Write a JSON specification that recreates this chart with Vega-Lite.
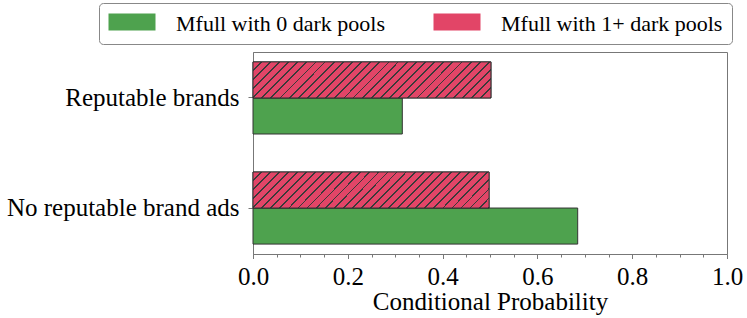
{
  "$schema": "https://vega.github.io/schema/vega-lite/v6.json",
  "width": 474,
  "height": 202,
  "autosize": {"type": "none"},
  "padding": {"left": 253, "top": 52, "right": 20, "bottom": 64},
  "config": {
    "font": "Liberation Serif",
    "view": {"stroke": "#777", "strokeWidth": 1},
    "axis": {
      "domainColor": "#777",
      "tickColor": "#777",
      "labelColor": "#000",
      "titleColor": "#000",
      "labelFont": "Liberation Serif",
      "titleFont": "Liberation Serif",
      "labelFontSize": 25,
      "titleFontSize": 25,
      "titleFontWeight": "normal",
      "labelLimit": 400,
      "grid": false
    },
    "legend": {"labelLimit": 400}
  },
  "data": {
    "values": [
      {"category": "Reputable brands", "series": "Mfull with 0 dark pools", "p": 0.315},
      {"category": "Reputable brands", "series": "Mfull with 1+ dark pools", "p": 0.502},
      {"category": "No reputable brand ads", "series": "Mfull with 0 dark pools", "p": 0.685},
      {"category": "No reputable brand ads", "series": "Mfull with 1+ dark pools", "p": 0.498}
    ]
  },
  "encoding": {
    "y": {
      "field": "category",
      "type": "nominal",
      "scale": {"domain": ["Reputable brands", "No reputable brand ads"], "paddingInner": 0.345, "paddingOuter": 0.09},
      "axis": {"title": null, "tickSize": 5, "labelPadding": 9, "labelLimit": 400}
    },
    "yOffset": {
      "field": "series",
      "type": "nominal",
      "scale": {"domain": ["Mfull with 1+ dark pools", "Mfull with 0 dark pools"], "paddingInner": 0, "paddingOuter": 0}
    },
    "x": {
      "field": "p",
      "type": "quantitative",
      "scale": {"domain": [0, 1], "nice": false},
      "axis": {
        "title": "Conditional Probability",
        "values": [0, 0.05, 0.1, 0.15, 0.2, 0.25, 0.3, 0.35, 0.4, 0.45, 0.5, 0.55, 0.6, 0.65, 0.7, 0.75, 0.8, 0.85, 0.9, 0.95, 1],
        "labelExpr": "abs(datum.value*5 - round(datum.value*5)) < 0.001 ? format(datum.value, '.1f') : ''",
        "tickSize": {"condition": {"test": "abs(datum.value*5 - round(datum.value*5)) < 0.001", "value": 4.5}, "value": 3},
        "labelFlush": false,
        "labelOverlap": false,
        "labelPadding": 6,
        "titlePadding": 0
      }
    }
  },
  "layer": [
    {
      "mark": {"type": "bar", "stroke": "#333", "strokeWidth": 1},
      "encoding": {
        "color": {
          "field": "series",
          "type": "nominal",
          "scale": {"domain": ["Mfull with 0 dark pools", "Mfull with 1+ dark pools"], "range": ["#4ea24e", "#e24567"]},
          "legend": {
            "orient": "none",
            "legendX": -154,
            "legendY": -49,
            "direction": "horizontal",
            "title": null,
            "padding": 9,
            "strokeColor": "#888",
            "cornerRadius": 4,
            "fillColor": "#fff",
            "symbolType": "M-1,-0.93H3.273V0.62H-1Z",
            "symbolSize": 484,
            "symbolStrokeColor": "#333",
            "symbolStrokeWidth": 1,
            "symbolOpacity": 1,
            "labelOffset": 45,
            "columnPadding": 46,
            "labelLimit": 400,
            "labelFont": "Liberation Serif",
            "labelFontSize": 22,
            "labelColor": "#000",
            "encode": {
              "symbols": {
                "update": {
                  "fill": {
                    "condition": {
                      "test": "datum.value === 'Mfull with 1+ dark pools'",
                      "value": {
                        "gradient": "linear", "x1": 0, "y1": 0, "x2": 1.204, "y2": 0.4355,
                        "stops": [
                          {"offset": 0, "color": "#e24567"},
                          {"offset": 0.1333, "color": "#e24567"}, {"offset": 0.1333, "color": "#3a3a3a"}, {"offset": 0.1667, "color": "#3a3a3a"}, {"offset": 0.1667, "color": "#e24567"},
                          {"offset": 0.3, "color": "#e24567"}, {"offset": 0.3, "color": "#3a3a3a"}, {"offset": 0.3333, "color": "#3a3a3a"}, {"offset": 0.3333, "color": "#e24567"},
                          {"offset": 0.4667, "color": "#e24567"}, {"offset": 0.4667, "color": "#3a3a3a"}, {"offset": 0.5, "color": "#3a3a3a"}, {"offset": 0.5, "color": "#e24567"},
                          {"offset": 0.6333, "color": "#e24567"}, {"offset": 0.6333, "color": "#3a3a3a"}, {"offset": 0.6667, "color": "#3a3a3a"}, {"offset": 0.6667, "color": "#e24567"},
                          {"offset": 0.8, "color": "#e24567"}, {"offset": 0.8, "color": "#3a3a3a"}, {"offset": 0.8333, "color": "#3a3a3a"}, {"offset": 0.8333, "color": "#e24567"},
                          {"offset": 0.9667, "color": "#e24567"}, {"offset": 0.9667, "color": "#3a3a3a"}, {"offset": 1, "color": "#3a3a3a"}
                        ]
                      }
                    },
                    "value": "#4ea24e"
                  }
                }
              }
            }
          }
        }
      }
    },
    {
      "transform": [{"filter": "datum.series === 'Mfull with 1+ dark pools'"}],
      "mark": {
        "type": "bar",
        "stroke": "#333",
        "strokeWidth": 1,
        "fill": {
          "gradient": "linear", "x1": 0, "y1": 0, "x2": 1.1255, "y2": 0.17,
          "stops": [
            {"offset": 0, "color": "#e24567"},
            {"offset": 0.0267, "color": "#e24567"}, {"offset": 0.0267, "color": "#3a3a3a"}, {"offset": 0.0333, "color": "#3a3a3a"}, {"offset": 0.0333, "color": "#e24567"},
            {"offset": 0.06, "color": "#e24567"}, {"offset": 0.06, "color": "#3a3a3a"}, {"offset": 0.0667, "color": "#3a3a3a"}, {"offset": 0.0667, "color": "#e24567"},
            {"offset": 0.0933, "color": "#e24567"}, {"offset": 0.0933, "color": "#3a3a3a"}, {"offset": 0.1, "color": "#3a3a3a"}, {"offset": 0.1, "color": "#e24567"},
            {"offset": 0.1267, "color": "#e24567"}, {"offset": 0.1267, "color": "#3a3a3a"}, {"offset": 0.1333, "color": "#3a3a3a"}, {"offset": 0.1333, "color": "#e24567"},
            {"offset": 0.16, "color": "#e24567"}, {"offset": 0.16, "color": "#3a3a3a"}, {"offset": 0.1667, "color": "#3a3a3a"}, {"offset": 0.1667, "color": "#e24567"},
            {"offset": 0.1933, "color": "#e24567"}, {"offset": 0.1933, "color": "#3a3a3a"}, {"offset": 0.2, "color": "#3a3a3a"}, {"offset": 0.2, "color": "#e24567"},
            {"offset": 0.2267, "color": "#e24567"}, {"offset": 0.2267, "color": "#3a3a3a"}, {"offset": 0.2333, "color": "#3a3a3a"}, {"offset": 0.2333, "color": "#e24567"},
            {"offset": 0.26, "color": "#e24567"}, {"offset": 0.26, "color": "#3a3a3a"}, {"offset": 0.2667, "color": "#3a3a3a"}, {"offset": 0.2667, "color": "#e24567"},
            {"offset": 0.2933, "color": "#e24567"}, {"offset": 0.2933, "color": "#3a3a3a"}, {"offset": 0.3, "color": "#3a3a3a"}, {"offset": 0.3, "color": "#e24567"},
            {"offset": 0.3267, "color": "#e24567"}, {"offset": 0.3267, "color": "#3a3a3a"}, {"offset": 0.3333, "color": "#3a3a3a"}, {"offset": 0.3333, "color": "#e24567"},
            {"offset": 0.36, "color": "#e24567"}, {"offset": 0.36, "color": "#3a3a3a"}, {"offset": 0.3667, "color": "#3a3a3a"}, {"offset": 0.3667, "color": "#e24567"},
            {"offset": 0.3933, "color": "#e24567"}, {"offset": 0.3933, "color": "#3a3a3a"}, {"offset": 0.4, "color": "#3a3a3a"}, {"offset": 0.4, "color": "#e24567"},
            {"offset": 0.4267, "color": "#e24567"}, {"offset": 0.4267, "color": "#3a3a3a"}, {"offset": 0.4333, "color": "#3a3a3a"}, {"offset": 0.4333, "color": "#e24567"},
            {"offset": 0.46, "color": "#e24567"}, {"offset": 0.46, "color": "#3a3a3a"}, {"offset": 0.4667, "color": "#3a3a3a"}, {"offset": 0.4667, "color": "#e24567"},
            {"offset": 0.4933, "color": "#e24567"}, {"offset": 0.4933, "color": "#3a3a3a"}, {"offset": 0.5, "color": "#3a3a3a"}, {"offset": 0.5, "color": "#e24567"},
            {"offset": 0.5267, "color": "#e24567"}, {"offset": 0.5267, "color": "#3a3a3a"}, {"offset": 0.5333, "color": "#3a3a3a"}, {"offset": 0.5333, "color": "#e24567"},
            {"offset": 0.56, "color": "#e24567"}, {"offset": 0.56, "color": "#3a3a3a"}, {"offset": 0.5667, "color": "#3a3a3a"}, {"offset": 0.5667, "color": "#e24567"},
            {"offset": 0.5933, "color": "#e24567"}, {"offset": 0.5933, "color": "#3a3a3a"}, {"offset": 0.6, "color": "#3a3a3a"}, {"offset": 0.6, "color": "#e24567"},
            {"offset": 0.6267, "color": "#e24567"}, {"offset": 0.6267, "color": "#3a3a3a"}, {"offset": 0.6333, "color": "#3a3a3a"}, {"offset": 0.6333, "color": "#e24567"},
            {"offset": 0.66, "color": "#e24567"}, {"offset": 0.66, "color": "#3a3a3a"}, {"offset": 0.6667, "color": "#3a3a3a"}, {"offset": 0.6667, "color": "#e24567"},
            {"offset": 0.6933, "color": "#e24567"}, {"offset": 0.6933, "color": "#3a3a3a"}, {"offset": 0.7, "color": "#3a3a3a"}, {"offset": 0.7, "color": "#e24567"},
            {"offset": 0.7267, "color": "#e24567"}, {"offset": 0.7267, "color": "#3a3a3a"}, {"offset": 0.7333, "color": "#3a3a3a"}, {"offset": 0.7333, "color": "#e24567"},
            {"offset": 0.76, "color": "#e24567"}, {"offset": 0.76, "color": "#3a3a3a"}, {"offset": 0.7667, "color": "#3a3a3a"}, {"offset": 0.7667, "color": "#e24567"},
            {"offset": 0.7933, "color": "#e24567"}, {"offset": 0.7933, "color": "#3a3a3a"}, {"offset": 0.8, "color": "#3a3a3a"}, {"offset": 0.8, "color": "#e24567"},
            {"offset": 0.8267, "color": "#e24567"}, {"offset": 0.8267, "color": "#3a3a3a"}, {"offset": 0.8333, "color": "#3a3a3a"}, {"offset": 0.8333, "color": "#e24567"},
            {"offset": 0.86, "color": "#e24567"}, {"offset": 0.86, "color": "#3a3a3a"}, {"offset": 0.8667, "color": "#3a3a3a"}, {"offset": 0.8667, "color": "#e24567"},
            {"offset": 0.8933, "color": "#e24567"}, {"offset": 0.8933, "color": "#3a3a3a"}, {"offset": 0.9, "color": "#3a3a3a"}, {"offset": 0.9, "color": "#e24567"},
            {"offset": 0.9267, "color": "#e24567"}, {"offset": 0.9267, "color": "#3a3a3a"}, {"offset": 0.9333, "color": "#3a3a3a"}, {"offset": 0.9333, "color": "#e24567"},
            {"offset": 0.96, "color": "#e24567"}, {"offset": 0.96, "color": "#3a3a3a"}, {"offset": 0.9667, "color": "#3a3a3a"}, {"offset": 0.9667, "color": "#e24567"},
            {"offset": 0.9933, "color": "#e24567"}, {"offset": 0.9933, "color": "#3a3a3a"}, {"offset": 1, "color": "#3a3a3a"}
          ]
        }
      }
    }
  ]
}
